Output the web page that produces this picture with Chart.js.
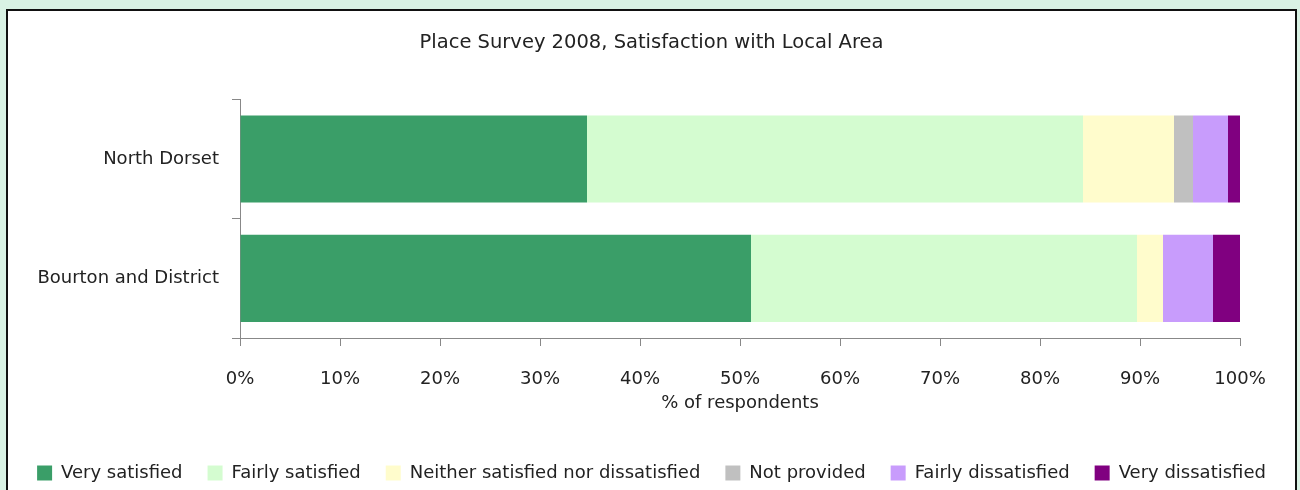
<!DOCTYPE html>
<html>
<head>
<meta charset="utf-8">
<script src="https://cdn.jsdelivr.net/npm/chart.js@4"></script>
<style>
  html, body { margin: 0; padding: 0; }
  body { width: 1300px; height: 490px; overflow: hidden; background: #d9f2e4; position: relative; }
  #panel { position: absolute; left: 6px; top: 9px; width: 1287px; height: 500px; background: #fff; border: 2px solid #111; }
  canvas { display: block; }
</style>
</head>
<body>
<div id="panel"><canvas id="chart" width="1287" height="481"></canvas></div>
<script>
const areas = ['North Dorset', 'Bourton and District'];
const verySatisfied = [34.7, 51.1];
const fairlySatisfied = [49.6, 38.6];
const neither = [9.1, 2.6];
const notProvided = [1.9, 0];
const fairlyDissatisfied = [3.5, 5.0];
const veryDissatisfied = [1.2, 2.7];

const font = 'DejaVu Sans, sans-serif';

const mk = (label, data, color) => ({
  label, data,
  backgroundColor: color,
  borderColor: color,
  borderWidth: 0,
  categoryPercentage: 1,
  barPercentage: 0.73,
});

new Chart(document.getElementById('chart'), {
  type: 'bar',
  data: {
    labels: areas,
    datasets: [
      mk('Very satisfied', verySatisfied, '#3a9e68'),
      mk('Fairly satisfied', fairlySatisfied, '#d4fcd0'),
      mk('Neither satisfied nor dissatisfied', neither, '#fffccc'),
      mk('Not provided', notProvided, '#c0c0c0'),
      mk('Fairly dissatisfied', fairlyDissatisfied, '#c89cfc'),
      mk('Very dissatisfied', veryDissatisfied, '#800080'),
    ],
  },
  options: {
    indexAxis: 'y',
    responsive: false,
    animation: false,
    devicePixelRatio: 1,
    layout: { padding: 0 },
    plugins: {
      tooltip: { enabled: false },
      title: {
        display: true,
        text: 'Place Survey 2008, Satisfaction with Local Area',
        color: '#222',
        font: { family: font, size: 19.5, weight: 'normal' },
        padding: { top: 20, bottom: 45 },
      },
      legend: {
        display: true,
        position: 'bottom',
        labels: {
          color: '#222',
          font: { family: font, size: 18 },
          boxWidth: 15,
          boxHeight: 15,
          padding: 25,
        },
      },
    },
    scales: {
      x: {
        stacked: true,
        min: 0,
        max: 100,
        ticks: {
          stepSize: 10,
          color: '#222',
          font: { family: font, size: 18 },
          padding: 23,
          maxRotation: 0,
          callback: v => v + '%',
        },
        grid: { drawOnChartArea: false, color: '#888', tickLength: 8 },
        border: { color: '#888' },
        title: {
          display: true,
          text: '% of respondents',
          color: '#222',
          font: { family: font, size: 18 },
          padding: { top: 2, bottom: 25 },
        },
        afterFit: s => { s.height = 101; },
      },
      y: {
        stacked: true,
        ticks: {
          color: '#222',
          font: { family: font, size: 18 },
          padding: 13,
        },
        grid: { drawOnChartArea: false, color: '#888', tickLength: 8, offset: true },
        border: { color: '#888' },
        afterFit: s => { s.width = 232; },
      },
      // empty right-hand gutter so title and legend stay centred on the panel
      gutter: {
        type: 'linear',
        position: 'right',
        ticks: { display: false },
        grid: { display: false },
        border: { display: false },
        afterFit: s => { s.width = 55; },
      },
    },
  },
});
</script>
</body>
</html>
